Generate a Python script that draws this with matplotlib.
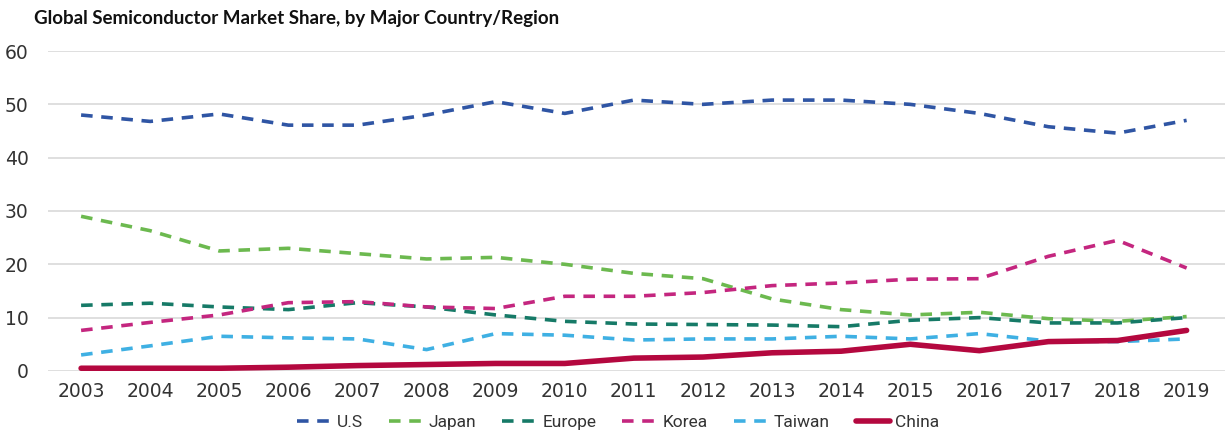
import matplotlib
matplotlib.use("Agg")
import matplotlib.pyplot as plt

years = list(range(2003, 2020))
us = [48.0, 46.8, 48.2, 46.1, 46.1, 48.0, 50.5, 48.3, 50.8, 50.0, 50.8, 50.8, 50.0, 48.3, 45.8, 44.6, 47.0]
japan = [29.0, 26.3, 22.5, 23.0, 22.0, 21.0, 21.3, 20.0, 18.3, 17.3, 13.5, 11.5, 10.5, 11.0, 9.8, 9.3, 10.2]
europe = [12.3, 12.7, 12.0, 11.5, 12.8, 12.0, 10.5, 9.3, 8.8, 8.7, 8.6, 8.3, 9.5, 10.0, 9.0, 9.0, 10.0]
korea = [7.6, 9.1, 10.5, 12.8, 13.0, 12.0, 11.7, 14.0, 14.0, 14.7, 16.0, 16.5, 17.2, 17.3, 21.5, 24.5, 19.3]
taiwan = [3.0, 4.7, 6.5, 6.2, 6.0, 4.0, 7.0, 6.7, 5.8, 6.0, 6.0, 6.5, 6.0, 7.0, 5.6, 5.5, 6.0]
china = [0.5, 0.5, 0.5, 0.7, 1.0, 1.2, 1.4, 1.4, 2.4, 2.6, 3.4, 3.7, 5.0, 3.8, 5.5, 5.7, 7.6]

series = [
    ("U.S", us, "#2f55a4", "--", 2.6),
    ("Japan", japan, "#6cb94f", "--", 2.6),
    ("Europe", europe, "#167a67", "--", 2.6),
    ("Korea", korea, "#c4267f", "--", 2.6),
    ("Taiwan", taiwan, "#3fb0e3", "--", 2.6),
    ("China", china, "#b4083f", "-", 4.0),
]

fig = plt.figure(figsize=(12.29, 4.40), dpi=100)
ax = fig.add_axes([0.039, 0.157, 0.958, 0.727])

for name, vals, color, ls, lw in series:
    if ls == "--":
        ax.plot(years, vals, color=color, lw=lw, ls=(0, (3.2, 2.4)), label=name,
                dash_capstyle="butt")
    else:
        ax.plot(years, vals, color=color, lw=lw, ls=ls, label=name,
                solid_capstyle="round")

ax.set_xlim(2002.52, 2019.56)
ax.set_ylim(0, 60)
ax.set_yticks(range(0, 61, 10))
ax.set_xticks(years)
ax.grid(axis="y", color="#d9d9d9", lw=1.2)
ax.set_axisbelow(True)
for s in ax.spines.values():
    s.set_visible(False)
ax.tick_params(axis="both", length=0, labelsize=13.5, labelcolor="#333333", pad=8)
ax.tick_params(axis="y", pad=14)
for lab in ax.get_xticklabels() + ax.get_yticklabels():
    lab.set_fontfamily("DejaVu Sans")

fig.text(0.028, 0.958, "Global Semiconductor Market Share, by Major Country/Region",
         fontsize=13.5, fontweight="bold", family="Lato", va="center", ha="left", color="#111111")

leg = fig.legend(loc="center", bbox_to_anchor=(0.503, 0.039), ncol=6, frameon=False,
                 handlelength=2.0, columnspacing=1.5, handletextpad=0.3,
                 prop={"family": "Roboto", "size": 12.5})
for t in leg.get_texts():
    t.set_color("#333333")

fig.savefig("out.png", dpi=100)
